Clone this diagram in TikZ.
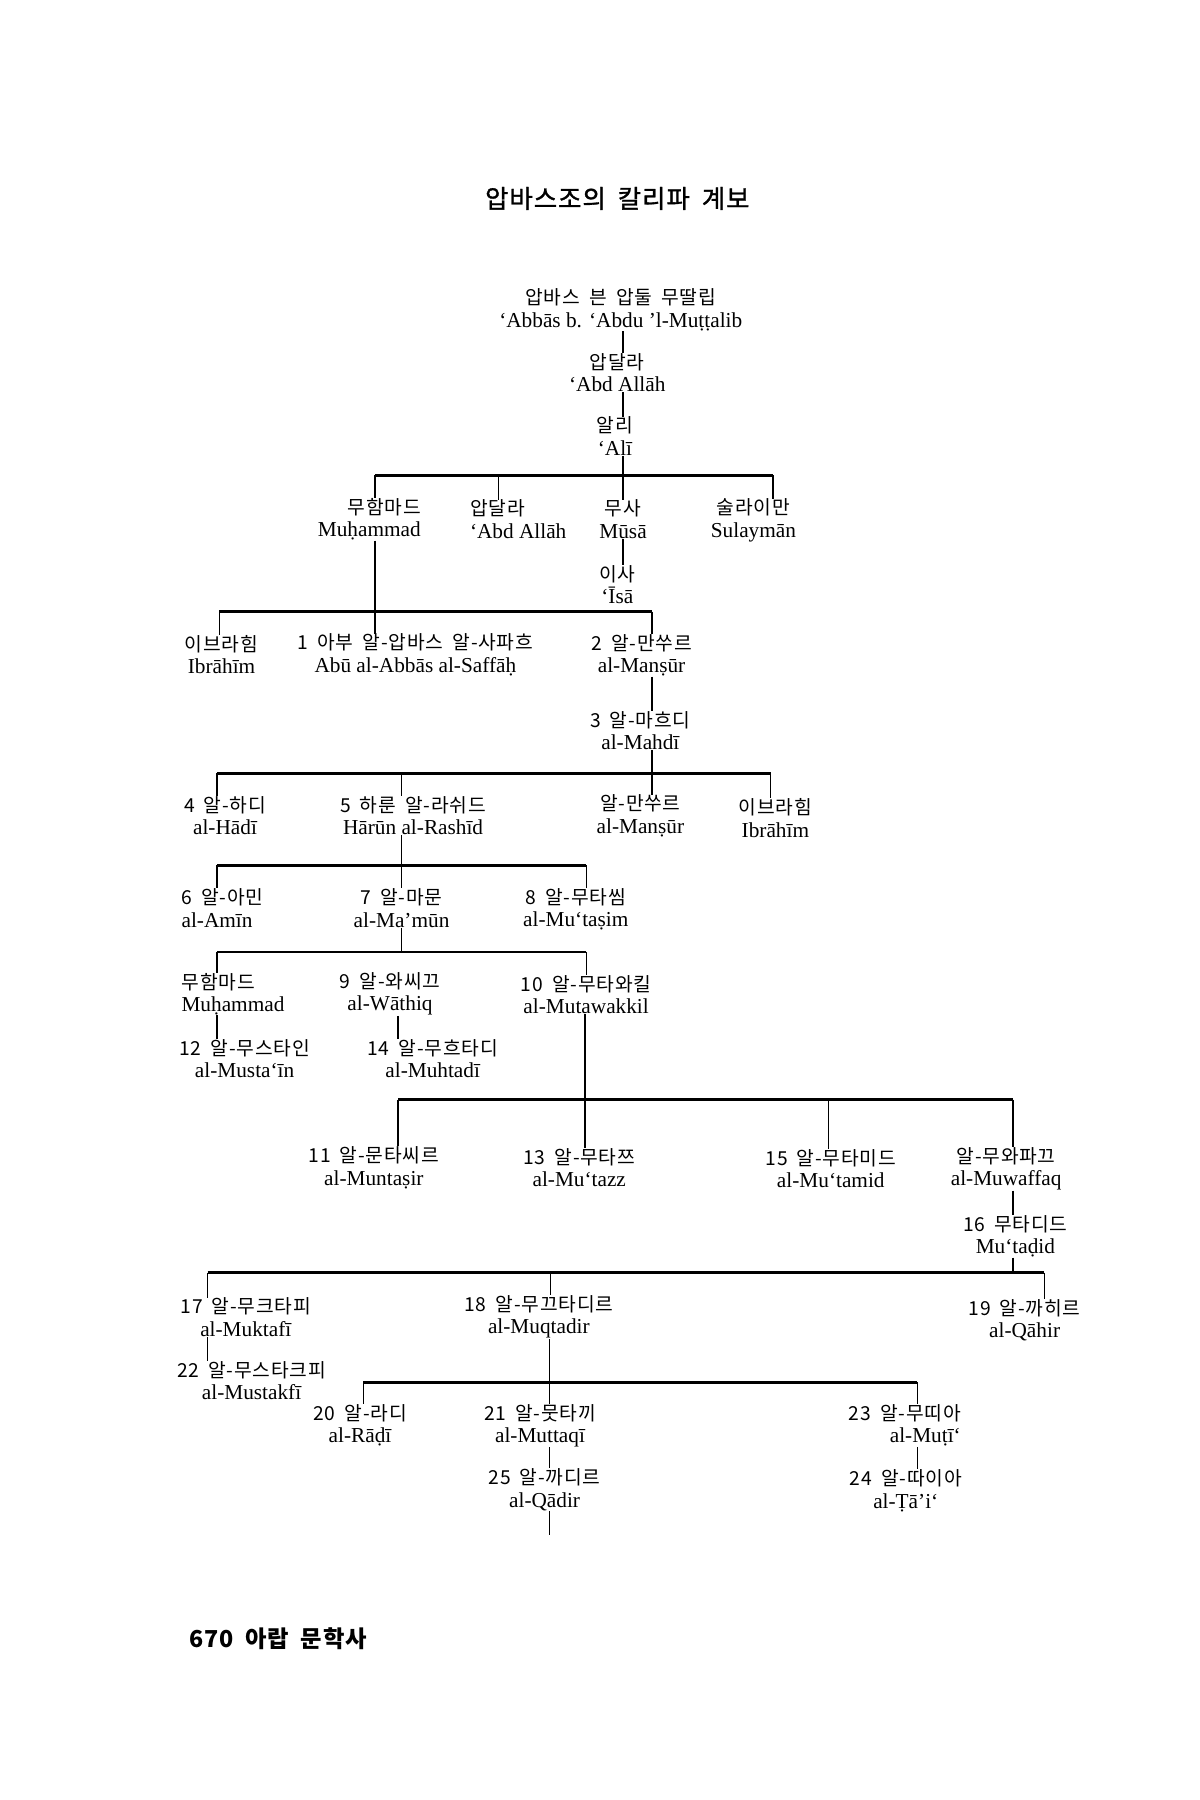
\documentclass[tikz,border=0pt]{standalone}
\usepackage{fontspec}
\setmainfont{Liberation Serif}
\newfontfamily\krfont[LetterSpace=4,WordSpace=1.8]{Noto Sans CJK KR}
\usepackage{tikz}
\tikzset{
  pers/.style={align=center, inner sep=0pt, font=\fontsize{10.5}{11}\selectfont},
  stem/.style={line width=0.6pt},
  bus/.style={line width=1.4pt}
}
\newcommand{\kor}[1]{{\krfont\fontsize{9.5}{11}\selectfont #1}}
\newcommand{\person}[6][]{\node[pers,#1] (#2) at (#3,#4) {\kor{#5}\\#6};}
\newcommand{\dropline}[2]{\draw[stem] (#1) -- (#1 |- #2.north);}
\newcommand{\stemup}[2]{\draw[stem] (#2.south -| #1) -- (#1);}
\newcommand{\thru}[3]{\draw[stem] (#2.south -| #1) -- (#3.north -| #1);}

\begin{document}
\begin{tikzpicture}[x=0.02cm,y=-0.02cm]
        \useasboundingbox (0,0) rectangle (1040,1560);

        \node (title) at (535,172) {\krfont\addfontfeatures{FakeBold=1.2}\fontsize{12.5}{15}\selectfont 압바스조의 칼리파 계보};

        % top
        \person{abbas}{538}{268.5}{압바스 븐 압둘 무딸립}{‘Abbās b. ‘Abdu ’l-Muṭṭalib}
        \person{abdallah}{535}{323}{압달라}{‘Abd Allāh}
        \person{ali}{533}{378}{알리}{‘Alī}

        % row2
        \person[anchor=east,align=right]{muhammad}{365}{450}{무함마드}{Muḥammad}
        \person[anchor=west,align=left]{abdallahb}{407}{450}{압달라}{‘Abd Allāh}
        \person{musa}{540}{450}{무사}{Mūsā}
        \person{sulayman}{653}{451}{술라이만}{Sulaymān}
        \person{isa}{535}{506.5}{이사}{‘Īsā}

        % row3
        \person{ibrahim}{192}{567.5}{이브라힘}{Ibrāhīm}
        \person{saffah}{360}{567.5}{1 아부 알-압바스 알-사파흐}{Abū al-Abbās al-Saffāḥ}
        \person{mansur}{556}{568}{2 알-만쑤르}{al-Manṣūr}
        \person{mahdi}{555}{633}{3 알-마흐디}{al-Mahdī}

        % row4
        \person{hadi}{195}{707}{4 알-하디}{al-Hādī}
        \person{rashid}{358}{707}{5 하룬 알-라쉬드}{Hārūn al-Rashīd}
        \person{mansurb}{555}{707}{알-만쑤르}{al-Manṣūr}
        \person{ibrahimb}{672}{709}{이브라힘}{Ibrāhīm}

        % row5
        \person[anchor=west,align=left]{amin}{157}{787}{6 알-아민}{al-Amīn}
        \person{mamun}{348}{787}{7 알-마문}{al-Ma’mūn}
        \person{mutasim}{499}{788}{8 알-무타씸}{al-Mu‘taṣim}

        % row6
        \person[anchor=west,align=left]{muhammadb}{157}{861.5}{무함마드}{Muḥammad}
        \person{wathiq}{338}{861.5}{9 알-와씨끄}{al-Wāthiq}
        \person{mutawakkil}{508}{862}{10 알-무타와킬}{al-Mutawakkil}
        \person{mustain}{212}{917.5}{12 알-무스타인}{al-Musta‘īn}
        \person{muhtadi}{375}{917.5}{14 알-무흐타디}{al-Muhtadī}

        % row7
        \person{muntasir}{324}{1012}{11 알-문타씨르}{al-Muntaṣir}
        \person{mutazz}{502}{1012}{13 알-무타쯔}{al-Mu‘tazz}
        \person{mutamid}{720}{1013}{15 알-무타미드}{al-Mu‘tamid}
        \person{muwaffaq}{872}{1013}{알-무와파끄}{al-Muwaffaq}
        \person{mutadid}{880}{1071.5}{16 무타디드}{Mu‘taḍid}

        % row8
        \person{muktafi}{213}{1141.5}{17 알-무크타피}{al-Muktafī}
        \person{muqtadir}{467}{1141.5}{18 알-무끄타디르}{al-Muqtadir}
        \person{qahir}{888}{1144}{19 알-까히르}{al-Qāhir}
        \person{mustakfi}{218}{1196.5}{22 알-무스타크피}{al-Mustakfī}

        % row9
        \person{radi}{312}{1235.5}{20 알-라디}{al-Rāḍī}
        \person{muttaqi}{468}{1235.5}{21 알-뭇타끼}{al-Muttaqī}
        \person[anchor=east,align=right]{muti}{833}{1235.5}{23 알-무띠아}{al-Muṭī‘}
        \person{qadir}{472}{1291}{25 알-까디르}{al-Qādir}
        \person{tai}{785}{1292}{24 알-따이아}{al-Ṭā’i‘}

        \node[anchor=west] (pageno) at (158,1420) {\krfont\bfseries\fontsize{11.5}{14}\selectfont 670\hspace{0.5em}아랍 문학사};

        % bar under Ali
        \coordinate (b1l) at (325,412);
        \coordinate (b1a) at (432,412);
        \coordinate (b1m) at (540,412);
        \coordinate (b1r) at (670,412);
        \thru{b1m}{abbas}{abdallah}
        \thru{b1m}{abdallah}{ali}
        \thru{b1m}{ali}{musa}
        \thru{b1m}{musa}{isa}
        \draw[bus] (b1l) -- (b1r);
        \dropline{b1l}{muhammad}
        \dropline{b1a}{abdallahb}
        \dropline{b1r}{sulayman}

        % bar under Muhammad
        \coordinate (b2l) at (190,530);
        \coordinate (b2m) at (325,530);
        \coordinate (b2r) at (565,530);
        \draw[bus] (b2l) -- (b2r);
        \thru{b2m}{muhammad}{saffah}
        \dropline{b2l}{ibrahim}
        \dropline{b2r}{mansur}

        % bar under al-Mahdi
        \coordinate (b3l) at (188,670);
        \coordinate (b3a) at (348,670);
        \coordinate (b3m) at (565,670);
        \coordinate (b3r) at (668,670);
        \thru{b3m}{mansur}{mahdi}
        \thru{b3m}{mahdi}{mansurb}
        \draw[bus] (b3l) -- (b3r);
        \dropline{b3l}{hadi}
        \dropline{b3a}{rashid}
        \dropline{b3r}{ibrahimb}

        % bar under Harun
        \coordinate (b4l) at (188,750);
        \coordinate (b4m) at (348,750);
        \coordinate (b4r) at (508,750);
        \thru{b4m}{rashid}{mamun}
        \draw[bus] (b4l) -- (b4r);
        \dropline{b4l}{amin}
        \dropline{b4r}{mutasim}

        % bar under al-Mamun
        \coordinate (b5l) at (188,825);
        \coordinate (b5m) at (348,825);
        \coordinate (b5r) at (508,825);
        \stemup{b5m}{mamun}
        \draw[bus] (b5l) -- (b5r);
        \dropline{b5l}{muhammadb}
        \dropline{b5r}{mutawakkil}
        \thru{b5l}{muhammadb}{mustain}

        % bar under al-Mutawakkil
        \coordinate (b6l) at (345,953);
        \coordinate (b6m) at (507,953);
        \coordinate (b6a) at (718,953);
        \coordinate (b6r) at (878,953);
        \thru{b6l}{wathiq}{muhtadi}
        \thru{b6m}{mutawakkil}{mutazz}
        \draw[bus] (b6l) -- (b6r);
        \dropline{b6l}{muntasir}
        \dropline{b6a}{mutamid}
        \dropline{b6r}{muwaffaq}
        \thru{b6r}{muwaffaq}{mutadid}

        % bar under Mutadid
        \coordinate (b7l) at (180,1103);
        \coordinate (b7a) at (477,1103);
        \coordinate (b7m) at (878,1103);
        \coordinate (b7r) at (905,1103);
        \stemup{b7m}{mutadid}
        \draw[bus] (b7l) -- (b7r);
        \dropline{b7l}{muktafi}
        \dropline{b7a}{muqtadir}
        \dropline{b7r}{qahir}
        \thru{b7l}{muktafi}{mustakfi}

        % bar under al-Muqtadir
        \coordinate (b8l) at (315,1198);
        \coordinate (b8m) at (476,1198);
        \coordinate (b8r) at (795,1198);
        \thru{b8m}{muqtadir}{muttaqi}
        \draw[bus] (b8l) -- (b8r);
        \dropline{b8l}{radi}
        \dropline{b8r}{muti}
        \thru{b8m}{muttaqi}{qadir}
        \thru{b8r}{muti}{tai}
        \coordinate (tail) at (476,1330);
        \draw[stem] (qadir.south -| tail) -- (tail);
\end{tikzpicture}
\end{document}
